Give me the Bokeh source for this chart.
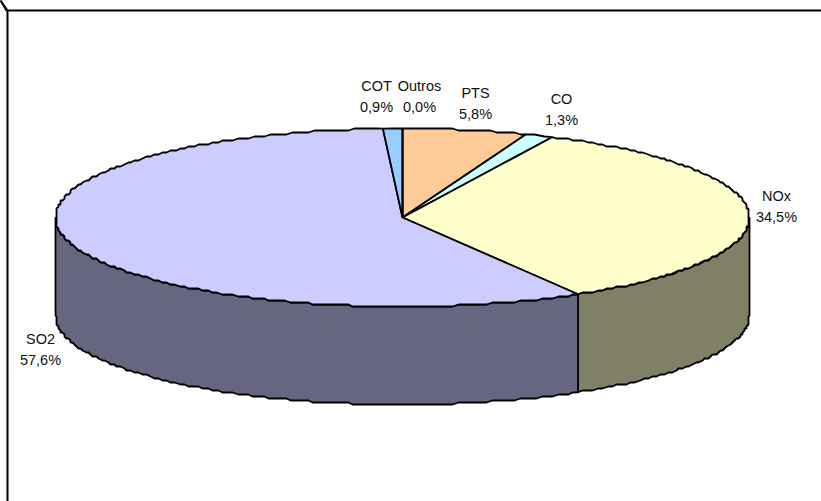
import numpy as np
from bokeh.plotting import figure
from bokeh.embed import file_html
from bokeh.resources import INLINE
from bokeh.core.properties import value
from bokeh.models import Range1d

# Clockwise from 12 o'clock, as in the chart
names = ["PTS", "CO", "NOx", "SO2", "COT", "Outros"]
shares = [5.8, 1.3, 34.5, 57.6, 0.9, 0.0]
shown = ["5,8%", "1,3%", "34,5%", "57,6%", "0,9%", "0,0%"]
top_colors = ["#FFCC99", "#CCFFFF", "#FFFFCC", "#CCCCFF", "#99CCFF", "#FF8080"]
side_colors = ["#806650", "#668080", "#808066", "#666680", "#4D6680", "#804040"]
label_x = [475, 561, 776, 40, 376, 419]
label_y = [92, 98, 195, 338, 85, 85]

CX, CY, RX, RY, DEPTH = 402, 217, 347, 89, 98
W, H = 821, 501

p = figure(width=W + 8, height=H + 8, output_backend="svg", toolbar_location=None,
           x_range=Range1d(-8, W), y_range=Range1d(H, -8), min_border=0,
           margin=(-8, 0, 0, -8), outline_line_color=None,
           background_fill_color="white", border_fill_color="white")
p.axis.visible = False
p.grid.visible = False

# chart frame: only the top and left edges are visible in the picture
p.line([7, 7, None, 6, 821], [501, 10, None, 10, 10], line_color="black", line_width=2)

total = sum(shares)
edges = np.concatenate([[0], np.cumsum(shares)]) / total * 2 * np.pi

def rim(a0, a1):
    # slightly grid-snapped outline like the low-resolution original
    n = max(2, int(abs(a1 - a0) * 60))
    t = np.linspace(a0, a1, n)
    x, y = CX + RX * np.sin(t), CY - RY * np.cos(t)
    x[1:-1] = np.round(x[1:-1] / 2) * 2
    y[1:-1] = np.round(y[1:-1] / 2) * 2
    return x, y

LW = 1.8
for i in range(len(shares)):
    a0, a1 = max(edges[i], np.pi / 2), min(edges[i + 1], 3 * np.pi / 2)
    if a1 <= a0:
        continue
    x, y = rim(a0, a1)
    xs = np.concatenate([x, x[::-1], [x[0]]])
    ys = np.concatenate([y, y[::-1] + DEPTH, [y[0]]])
    p.patch(xs, ys, fill_color=side_colors[i], line_color="black", line_width=LW)

for i in range(len(shares)):
    if shares[i] == 0:
        continue
    x, y = rim(edges[i], edges[i + 1])
    xs = np.concatenate([[CX], x, [CX]])
    ys = np.concatenate([[CY], y, [CY]])
    p.patch(xs, ys, fill_color=top_colors[i], line_color="black", line_width=LW)

# zero-share slice still draws a radius at the top
p.line([CX, CX], [CY, CY - RY], line_color="black", line_width=LW)

for n, s, x, y in zip(names, shown, label_x, label_y):
    p.text([x], [y], text=[n], text_font=value("Liberation Sans"), text_font_size="14.5px",
           text_align="center", text_baseline="middle", text_color="#111111")
    p.text([x], [y + 21], text=[s], text_font=value("Liberation Sans"), text_font_size="14.5px",
           text_align="center", text_baseline="middle", text_color="#111111")

open("out.html", "w").write(file_html(p, INLINE))
